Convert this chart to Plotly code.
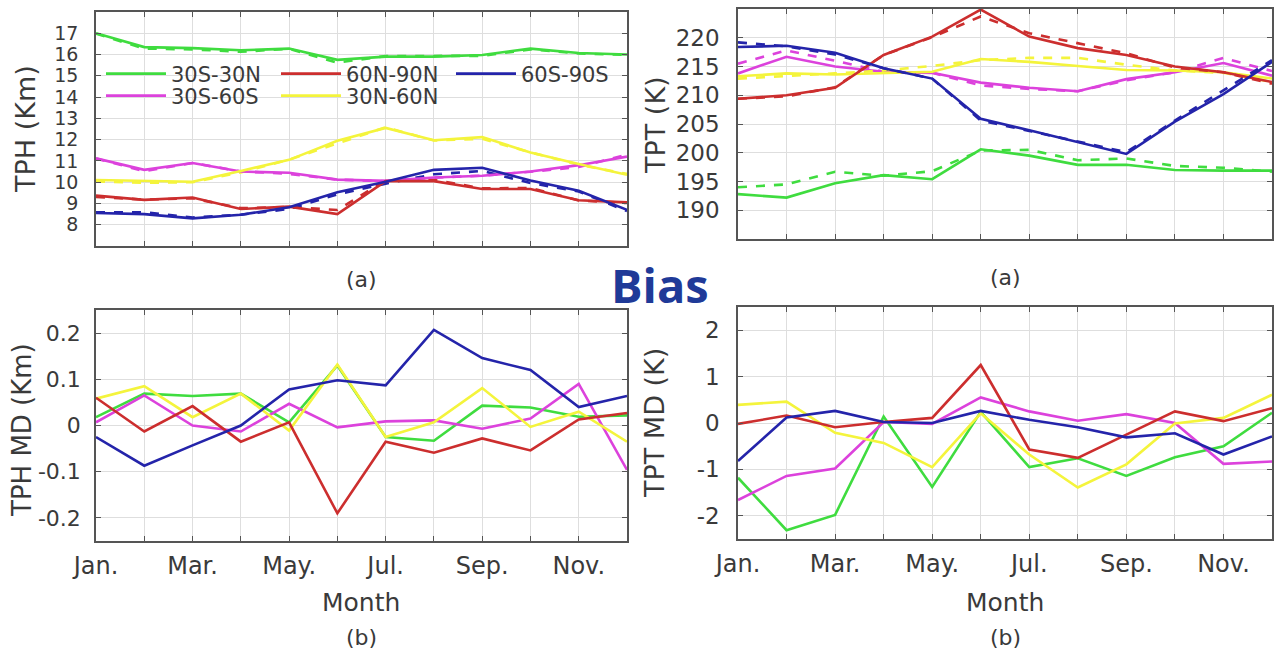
import plotly.graph_objects as go

months = list(range(1, 13))
month_labels = ["Jan.", "", "Mar.", "", "May.", "", "Jul.", "", "Sep.", "", "Nov.", ""]
regions = ["30S-30N", "30S-60S", "30N-60N", "60N-90N", "60S-90S"]
colors = {"30S-30N": "#3fdc3f", "30S-60S": "#dc42dc", "30N-60N": "#f4f43c",
          "60N-90N": "#cc2e2e", "60S-90S": "#2424aa"}

# TPH (km) - solid series
tph_30s30n = [17.0, 16.35, 16.3, 16.2, 16.28, 15.75, 15.9, 15.9, 15.98, 16.28, 16.07, 16.0]
tph_30s60s = [11.12, 10.58, 10.9, 10.5, 10.44, 10.12, 10.06, 10.22, 10.3, 10.5, 10.8, 11.2]
tph_30n60n = [10.1, 10.05, 10.02, 10.53, 11.05, 11.95, 12.55, 11.97, 12.12, 11.4, 10.85, 10.35]
tph_60n90n = [9.37, 9.17, 9.28, 8.74, 8.85, 8.5, 10.05, 10.05, 9.68, 9.68, 9.15, 9.05]
tph_60s90s = [8.55, 8.5, 8.3, 8.47, 8.82, 9.53, 10.02, 10.58, 10.68, 10.08, 9.6, 8.7]
# TPH (km) - dashed series
tph_30s30n_d = [16.98, 16.28, 16.24, 16.13, 16.27, 15.62, 15.93, 15.93, 15.94, 16.24, 16.05, 15.98]
tph_30s60s_d = [11.11, 10.52, 10.9, 10.51, 10.39, 10.12, 10.05, 10.21, 10.31, 10.49, 10.71, 11.3]
tph_30n60n_d = [10.04, 9.97, 10.0, 10.46, 11.06, 11.82, 12.58, 11.96, 12.04, 11.4, 10.82, 10.39]
tph_60n90n_d = [9.31, 9.18, 9.24, 8.78, 8.84, 8.69, 10.09, 10.11, 9.71, 9.73, 9.14, 9.02]
tph_60s90s_d = [8.58, 8.59, 8.34, 8.47, 8.74, 9.43, 9.93, 10.37, 10.53, 9.96, 9.56, 8.64]

# TPT (K) - solid series
tpt_30s30n = [192.8, 192.2, 194.7, 196.1, 195.4, 200.6, 199.5, 197.9, 197.9, 197.0, 196.9, 196.9]
tpt_30s60s = [213.8, 216.7, 215.0, 214.1, 213.9, 212.2, 211.3, 210.7, 212.8, 214.0, 215.6, 213.4]
tpt_30n60n = [213.3, 213.8, 213.6, 213.9, 214.1, 216.3, 215.8, 215.1, 214.4, 214.3, 214.0, 212.9]
tpt_60n90n = [209.4, 210.0, 211.3, 217.0, 220.2, 224.9, 220.2, 218.2, 217.0, 215.0, 214.0, 212.3]
tpt_60s90s = [218.4, 218.6, 217.4, 214.7, 212.9, 205.9, 203.9, 201.8, 199.8, 205.4, 210.2, 215.8]
# TPT (K) - dashed series
tpt_30s30n_d = [194.0, 194.5, 196.7, 196.0, 196.8, 200.4, 200.5, 198.7, 199.0, 197.7, 197.4, 196.7]
tpt_30s60s_d = [215.5, 217.8, 216.0, 214.1, 213.9, 211.7, 211.1, 210.7, 212.6, 214.0, 216.5, 214.2]
tpt_30n60n_d = [212.9, 213.3, 213.8, 214.3, 215.1, 216.1, 216.5, 216.5, 215.3, 214.3, 213.9, 212.3]
tpt_60n90n_d = [209.4, 209.8, 211.4, 217.0, 220.1, 223.7, 220.8, 219.0, 217.3, 214.8, 214.0, 212.0]
tpt_60s90s_d = [219.2, 218.5, 217.1, 214.7, 212.9, 205.6, 203.8, 201.9, 200.1, 205.6, 210.9, 216.1]

# TPH MD (km)
tphmd_30s30n = [0.018, 0.069, 0.064, 0.069, 0.007, 0.13, -0.025, -0.033, 0.043, 0.039, 0.019, 0.022]
tphmd_30s60s = [0.007, 0.065, 0.0, -0.013, 0.047, -0.004, 0.009, 0.011, -0.007, 0.015, 0.09, -0.096]
tphmd_30n60n = [0.058, 0.085, 0.018, 0.069, -0.011, 0.132, -0.025, 0.007, 0.081, -0.003, 0.03, -0.035]
tphmd_60n90n = [0.06, -0.013, 0.042, -0.035, 0.007, -0.19, -0.035, -0.059, -0.028, -0.054, 0.013, 0.027]
tphmd_60s90s = [-0.025, -0.087, -0.043, 0.0, 0.078, 0.098, 0.087, 0.207, 0.146, 0.12, 0.04, 0.064]

# TPT MD (K)
tptmd_30s30n = [-1.18, -2.31, -1.98, 0.14, -1.38, 0.24, -0.95, -0.76, -1.14, -0.74, -0.5, 0.22]
tptmd_30s60s = [-1.66, -1.14, -0.98, 0.02, -0.02, 0.55, 0.25, 0.05, 0.19, 0.0, -0.88, -0.83]
tptmd_30n60n = [0.39, 0.46, -0.21, -0.43, -0.95, 0.21, -0.68, -1.39, -0.89, -0.01, 0.11, 0.61]
tptmd_60n90n = [-0.02, 0.16, -0.09, 0.02, 0.11, 1.25, -0.57, -0.75, -0.25, 0.25, 0.04, 0.32]
tptmd_60s90s = [-0.82, 0.12, 0.26, 0.02, 0.0, 0.26, 0.07, -0.09, -0.31, -0.22, -0.68, -0.29]

tph = dict(zip(regions, [tph_30s30n, tph_30s60s, tph_30n60n, tph_60n90n, tph_60s90s]))
tph_d = dict(zip(regions, [tph_30s30n_d, tph_30s60s_d, tph_30n60n_d, tph_60n90n_d, tph_60s90s_d]))
tpt = dict(zip(regions, [tpt_30s30n, tpt_30s60s, tpt_30n60n, tpt_60n90n, tpt_60s90s]))
tpt_d = dict(zip(regions, [tpt_30s30n_d, tpt_30s60s_d, tpt_30n60n_d, tpt_60n90n_d, tpt_60s90s_d]))
tphmd = dict(zip(regions, [tphmd_30s30n, tphmd_30s60s, tphmd_30n60n, tphmd_60n90n, tphmd_60s90s]))
tptmd = dict(zip(regions, [tptmd_30s30n, tptmd_30s60s, tptmd_30n60n, tptmd_60n90n, tptmd_60s90s]))

W, H = 1278, 663
FONT = "DejaVu Sans"
TXT = "#3a3a3a"
LW = 2.6

fig = go.Figure()
legend_of = {"30S-30N": "legend", "60N-90N": "legend", "60S-90S": "legend",
             "30S-60S": "legend2", "30N-60N": "legend2"}
rank = {"30S-30N": 1, "60N-90N": 2, "60S-90S": 3, "30S-60S": 1, "30N-60N": 2}

for r in regions:
    fig.add_trace(go.Scatter(x=months, y=tph_d[r], mode="lines",
                             line=dict(color=colors[r], width=LW, dash="dash"),
                             xaxis="x", yaxis="y", showlegend=False))
for r in regions:
    fig.add_trace(go.Scatter(x=months, y=tph[r], mode="lines", line=dict(color=colors[r], width=LW),
                             xaxis="x", yaxis="y", name=r, legend=legend_of[r], legendrank=rank[r]))
for r in regions:
    fig.add_trace(go.Scatter(x=months, y=tpt_d[r], mode="lines",
                             line=dict(color=colors[r], width=LW, dash="dash"),
                             xaxis="x2", yaxis="y2", showlegend=False))
    fig.add_trace(go.Scatter(x=months, y=tpt[r], mode="lines", line=dict(color=colors[r], width=LW),
                             xaxis="x2", yaxis="y2", showlegend=False))
for r in regions:
    fig.add_trace(go.Scatter(x=months, y=tphmd[r], mode="lines", line=dict(color=colors[r], width=LW),
                             xaxis="x3", yaxis="y3", showlegend=False))
    fig.add_trace(go.Scatter(x=months, y=tptmd[r], mode="lines", line=dict(color=colors[r], width=LW),
                             xaxis="x4", yaxis="y4", showlegend=False))

def px_x(a, b):
    return [a / W, b / W]

def px_y(top, bottom):
    return [1 - bottom / H, 1 - top / H]

axis_common = dict(showline=True, linecolor="#555555", linewidth=1.5, mirror="ticks",
                   ticks="inside", ticklen=5, tickcolor="#555555", showgrid=True,
                   gridcolor="#dedede", gridwidth=1, zeroline=False, automargin=False)

xl = px_x(96, 627)
xr = px_x(738, 1272)

def xaxis(dom, anchor, labels):
    d = dict(axis_common)
    d.update(domain=dom, anchor=anchor, range=[1, 12], tickvals=months,
             ticktext=month_labels if labels else [""] * 12,
             tickfont=dict(family=FONT, size=24, color=TXT), ticklabelstandoff=2)
    return d

def yaxis(dom, anchor, rng, vals, texts, fs, so):
    d = dict(axis_common)
    d.update(domain=dom, anchor=anchor, range=rng, tickvals=vals, ticktext=texts,
             tickfont=dict(family=FONT, size=fs, color=TXT), ticklabelstandoff=so)
    return d

tph_ticks = list(range(8, 18))
tpt_ticks = [190, 195, 200, 205, 210, 215, 220]
tphmd_ticks = [-0.2, -0.1, 0, 0.1, 0.2]
tphmd_text = ["-0.2", "-0.1", "0", "0.1", "0.2"]
tptmd_ticks = [-2, -1, 0, 1, 2]
tptmd_text = ["-2", "-1", "0", "1", "2"]

leg_common = dict(orientation="h", xanchor="left", yanchor="middle",
                  entrywidth=100, entrywidthmode="pixels", itemwidth=60,
                  bgcolor="rgba(0,0,0,0)", font=dict(family=FONT, size=21, color=TXT))

fig.update_layout(
    width=W, height=H, margin=dict(l=0, r=0, t=0, b=0),
    paper_bgcolor="white", plot_bgcolor="white",
    xaxis=xaxis(xl, "y", False),
    yaxis=yaxis(px_y(12, 246), "x", [7, 18], tph_ticks, [str(v) for v in tph_ticks], 19, 12),
    xaxis2=xaxis(xr, "y2", False),
    yaxis2=yaxis(px_y(9, 239), "x2", [185, 225], tpt_ticks, [str(v) for v in tpt_ticks], 23, 12),
    xaxis3=xaxis(xl, "y3", True),
    yaxis3=yaxis(px_y(310, 541), "x3", [-0.25, 0.25], tphmd_ticks, tphmd_text, 22, 9),
    xaxis4=xaxis(xr, "y4", True),
    yaxis4=yaxis(px_y(307, 539), "x4", [-2.5, 2.5], tptmd_ticks, tptmd_text, 23, 12),
    legend=dict(leg_common, x=101 / W, y=1 - 74 / H),
    legend2=dict(leg_common, x=101 / W, y=1 - 96 / H),
)

ann = []
def text(x, y, s, size=22, angle=0, family=FONT, color=TXT, bold=False):
    ann.append(dict(x=x / W, y=1 - y / H, xref="paper", yref="paper",
                    text=("<b>%s</b>" % s) if bold else s, showarrow=False,
                    textangle=angle, xanchor="center", yanchor="middle",
                    font=dict(family=family, size=size, color=color)))

text(26, 129, "TPH (Km)", 27, -90)
text(655, 125, "TPT (K)", 27, -90)
text(22, 430, "TPH MD (Km)", 26, -90)
text(655, 423, "TPT MD (K)", 27, -90)
text(361, 279, "(a)", 22)
text(1005, 277, "(a)", 22)
text(361, 637, "(b)", 22)
text(1005, 637, "(b)", 22)
text(361, 602, "Month", 25)
text(1005, 602, "Month", 25)
text(660, 285, "Bias", 47, family="Open Sans", color="#1f3a98", bold=True)
fig.update_layout(annotations=ann)

fig.write_html("out.html")
